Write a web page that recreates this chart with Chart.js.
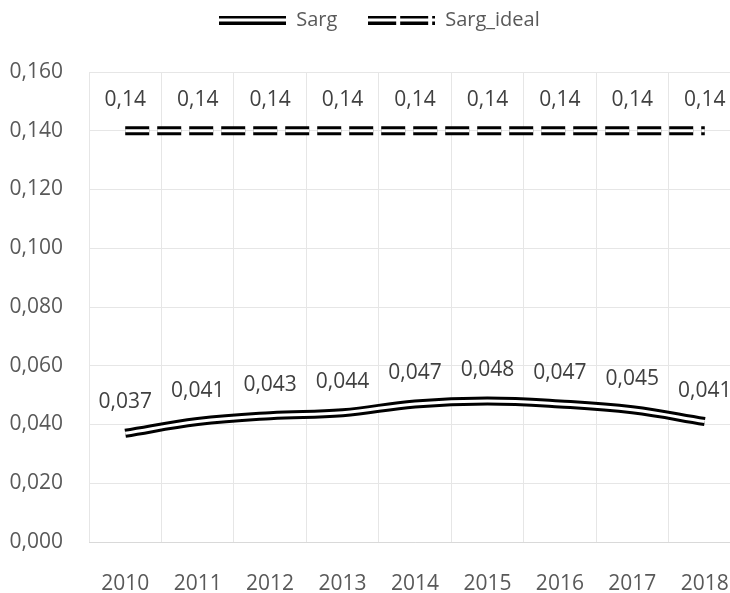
<!DOCTYPE html>
<html>
<head>
<meta charset="utf-8">
<script src="https://cdn.jsdelivr.net/npm/chart.js@4/dist/chart.umd.min.js"></script>
<style>
    html, body { margin: 0; padding: 0; background: #fff; overflow: hidden; }
    #wrap { width: 762px; height: 593px; position: relative; }
</style>
</head>
<body>
<div id="wrap"><canvas id="sargChart"></canvas></div>
<script>
// data
const years = ['2010', '2011', '2012', '2013', '2014', '2015', '2016', '2017', '2018'];
const sarg = [0.037, 0.041, 0.043, 0.044, 0.047, 0.048, 0.047, 0.045, 0.041];
const sargIdeal = [0.14, 0.14, 0.14, 0.14, 0.14, 0.14, 0.14, 0.14, 0.14];
const seriesNames = ['Sarg', 'Sarg_ideal'];
const yMin = 0, yMax = 0.16, yStep = 0.02;

const textColor = '#595959';
const gridColor = '#e6e6e6';
const fontFamily = '"Open Sans", sans-serif';
const fontSize = 21;

function fmt(v, digits) {
    return v.toFixed(digits).replace('.', ',');
}

// double line swatch for the legend
function makeSwatch(dashed) {
    const c = document.createElement('canvas');
    c.width = 67;
    c.height = 9;
    const g = c.getContext('2d');
    const segs = dashed ? [[0, 28], [32, 60], [64, 67]] : [[0, 67]];
    segs.forEach(function (s) {
        g.fillStyle = '#000';
        g.fillRect(s[0], 0, s[1] - s[0], 9);
        g.fillStyle = '#fff';
        g.fillRect(s[0], 3, s[1] - s[0], 3);
    });
    return c;
}

// value labels above the points
const valueLabels = {
    id: 'valueLabels',
    afterDatasetsDraw(chart) {
        const ctx = chart.ctx;
        ctx.save();
        ctx.font = fontSize + 'px ' + fontFamily;
        ctx.fillStyle = '#404040';
        ctx.textAlign = 'center';
        ctx.textBaseline = 'middle';
        chart.data.datasets.forEach(function (ds, i) {
            if (ds.labelDigits === undefined) return;
            chart.getDatasetMeta(i).data.forEach(function (pt, j) {
                ctx.fillText(fmt(ds.data[j], ds.labelDigits), pt.x, pt.y - 31);
            });
        });
        ctx.restore();
    }
};

// extra room under the legend, and nudge it a bit to the right
const legendSpace = {
    id: 'legendSpace',
    beforeInit(chart) {
        const origFit = chart.legend.fit;
        chart.legend.fit = function fit() {
            origFit.bind(chart.legend)();
            this.height += 32;
        };
    },
    afterLayout(chart) {
        chart.legend.left += 9;
        chart.legend.right += 9;
    }
};

const ctx = document.getElementById('sargChart');
new Chart(ctx, {
    type: 'line',
    data: {
        labels: years,
        datasets: [{
            label: seriesNames[0],
            data: sarg,
            borderColor: '#000',
            borderWidth: 9,
            tension: 0.4,
            pointRadius: 0,
            order: 2
        }, {
            label: seriesNames[0],
            data: sarg,
            borderColor: '#fff',
            borderWidth: 3,
            tension: 0.4,
            pointRadius: 0,
            order: 1,
            labelDigits: 3
        }, {
            label: seriesNames[1],
            data: sargIdeal,
            borderColor: '#000',
            borderWidth: 9,
            borderDash: [24, 8],
            pointRadius: 0,
            order: 2
        }, {
            label: seriesNames[1],
            data: sargIdeal,
            borderColor: '#fff',
            borderWidth: 3,
            borderDash: [24, 8],
            pointRadius: 0,
            order: 1,
            labelDigits: 2
        }]
    },
    options: {
        responsive: true,
        maintainAspectRatio: false,
        animation: false,
        layout: {
            padding: { left: 0, right: 21, top: 0, bottom: 0 }
        },
        plugins: {
            legend: {
                display: true,
                position: 'top',
                labels: {
                    usePointStyle: true,
                    pointStyleWidth: 67,
                    padding: 10,
                    color: textColor,
                    font: { family: fontFamily, size: 20 },
                    generateLabels: function () {
                        return [
                            { text: seriesNames[0] + '    ', pointStyle: makeSwatch(false), fontColor: textColor, datasetIndex: 0, hidden: false, lineWidth: 0 },
                            { text: seriesNames[1], pointStyle: makeSwatch(true), fontColor: textColor, datasetIndex: 2, hidden: false, lineWidth: 0 }
                        ];
                    }
                }
            },
            tooltip: { enabled: false }
        },
        scales: {
            x: {
                offset: true,
                grid: { offset: true, color: gridColor, drawTicks: false },
                border: { color: '#d9d9d9' },
                ticks: {
                    color: textColor,
                    padding: 29,
                    font: { family: fontFamily, size: fontSize }
                },
                afterFit: function (scale) { scale.height = 51; }
            },
            y: {
                min: yMin,
                max: yMax,
                grid: { color: gridColor, drawTicks: false },
                border: { display: false },
                ticks: {
                    stepSize: yStep,
                    color: textColor,
                    padding: 26,
                    font: { family: fontFamily, size: fontSize },
                    callback: function (v) { return fmt(v, 3); }
                },
                afterFit: function (scale) { scale.width = 89; }
            }
        }
    },
    plugins: [valueLabels, legendSpace]
});
</script>
</body>
</html>
